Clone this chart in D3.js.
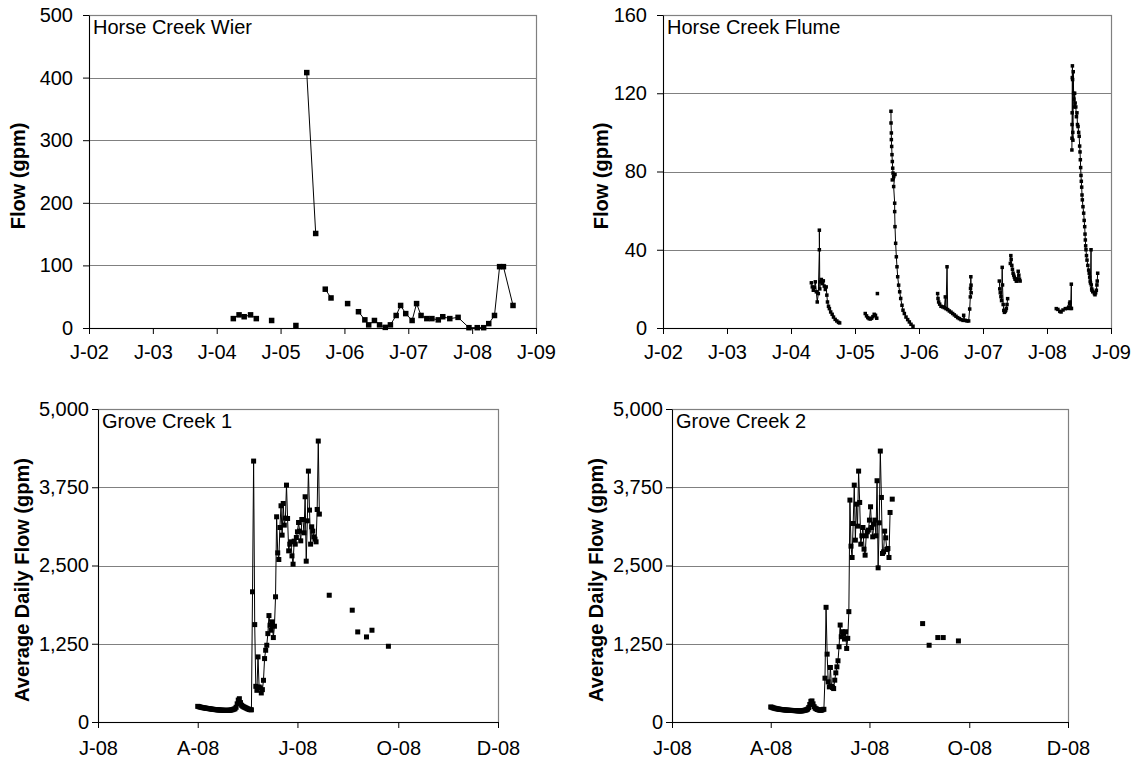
<!DOCTYPE html>
<html><head><meta charset="utf-8">
<script src="https://cdn.jsdelivr.net/npm/d3@7"></script>
<style>
body{margin:0;background:#fff}
svg{display:block}
text{font-family:Arial,"Liberation Sans",sans-serif;fill:#000}
</style>
</head><body>
<svg id="chart" width="1135" height="763"></svg>
<script>
// ---------- axis ticks / labels ----------
const yearTicks = [2002, 2003, 2004, 2005, 2006, 2007, 2008, 2009];
const yearTickLabels = ["J-02", "J-03", "J-04", "J-05", "J-06", "J-07", "J-08", "J-09"];
const wierFlowTicks = [0, 100, 200, 300, 400, 500];
const flumeFlowTicks = [0, 40, 80, 120, 160];
const groveFlowTicks = [0, 1250, 2500, 3750, 5000];
const groveTickDates = ["2008-01-01", "2008-04-01", "2008-07-01", "2008-10-01", "2008-12-31"];
const groveTickLabels = ["J-08", "A-08", "J-08", "O-08", "D-08"];

// ---------- Horse Creek Wier: [decimal year, gpm], null = gap ----------
const wierData = [
  [2004.26,15],[2004.35,21],[2004.43,18],[2004.53,21],[2004.62,15], null,
  [2004.86,12], null,
  [2005.24,4], null,
  [2005.41,408],[2005.55,151], null,
  [2005.70,62],[2005.79,48], null,
  [2006.05,39], null,
  [2006.22,26],[2006.32,13],[2006.38,5],[2006.47,12],[2006.55,5],[2006.64,1],[2006.72,5],
  [2006.81,20],[2006.88,36],[2006.96,23],[2007.06,12],[2007.13,39],[2007.20,20],[2007.29,15],
  [2007.37,15],[2007.47,13],[2007.54,18],[2007.65,15],[2007.78,17],[2007.95,0.5],[2008.08,0.5],
  [2008.18,0.5],[2008.26,7],[2008.35,20],[2008.43,98],[2008.49,98],[2008.64,36]
];

// ---------- Horse Creek Flume: [decimal year, gpm], null = gap ----------
const flumeData = [
  [2004.318,23.1],[2004.333,21],[2004.349,19.3],[2004.365,20.7],[2004.38,23.6],[2004.396,18.5],
  [2004.41,13.3],[2004.427,17.6],[2004.443,40],[2004.443,50],[2004.45,20],[2004.458,23.6],
  [2004.474,24.8],[2004.49,22.7],[2004.505,24.1],[2004.52,21.4],[2004.536,19.7],[2004.55,21],
  [2004.56,16.8],[2004.57,13.3],[2004.586,11.1],[2004.6,9.9],[2004.62,8.2],[2004.643,7],
  [2004.664,5.6],[2004.69,4.4],[2004.716,3.6],[2004.742,2.9],[2004.76,2.6], null,
  [2005.16,7.4],[2005.18,6.2],[2005.2,5.3],[2005.22,4.8],[2005.24,4.6],[2005.26,5],[2005.28,5.8],
  [2005.3,7],[2005.32,6.5],[2005.34,5], null,
  [2005.35,17.6], null,
  [2005.562,110.8],[2005.563,104.8],[2005.568,99.7],[2005.568,96.3],[2005.573,92.8],[2005.578,88.6],
  [2005.583,85.1],[2005.589,81.7],[2005.594,79.2],[2005.604,77.4],[2005.583,75.7],[2005.625,78.5],
  [2005.604,72.3],[2005.62,63.8],[2005.62,59.5],[2005.625,51.8],[2005.635,43.3],[2005.646,36.4],
  [2005.656,31.3],[2005.667,26.2],[2005.682,21.9],[2005.698,18.5],[2005.714,15.1],[2005.734,11.6],
  [2005.75,9.1],[2005.771,7.4],[2005.797,5.6],[2005.823,4.3],[2005.849,3.1],[2005.875,1.9],
  [2005.906,0.9], null,
  [2006.291,17.6],[2006.297,15.1],[2006.307,13.3],[2006.323,12.2],[2006.344,11.1],[2006.37,10.8],
  [2006.396,10.4],[2006.411,15.9],[2006.422,9.9],[2006.438,31.3],[2006.448,9.4],[2006.474,8.7],
  [2006.5,8.1],[2006.526,7.4],[2006.552,6.7],[2006.578,6.0],[2006.604,5.3],[2006.63,4.8],
  [2006.656,4.3],[2006.688,3.9],[2006.698,6.5],[2006.724,3.9],[2006.75,3.6],[2006.776,3.6],
  [2006.792,9.7],[2006.802,15.9],[2006.805,20.2],[2006.81,26.2],[2006.813,21.9],[2006.815,18], null,
  [2007.255,24],[2007.262,20],[2007.27,18],[2007.28,16],[2007.29,14],[2007.3,31],[2007.305,22],
  [2007.315,12],[2007.325,9],[2007.335,8],[2007.345,8.5],[2007.355,9],[2007.365,10],[2007.375,12],
  [2007.385,15], null,
  [2007.427,33],[2007.435,37],[2007.44,35],[2007.45,32],[2007.46,30],[2007.47,28],[2007.48,27],
  [2007.49,26],[2007.5,25],[2007.51,25],[2007.52,24],[2007.53,24],[2007.54,25],[2007.55,29],
  [2007.56,27],[2007.57,25],[2007.58,24], null,
  [2008.145,9.9],[2008.17,9.5],[2008.2,8.5],[2008.22,8.2],[2008.25,9.2],[2008.286,9.9],[2008.32,10],
  [2008.34,10.7],[2008.353,12.5],[2008.36,13.3],[2008.37,10],[2008.38,22.4],[2008.382,10], null,
  [2008.389,91],[2008.390,97],[2008.391,104],[2008.393,110],[2008.395,128],[2008.397,134],
  [2008.400,127],[2008.403,100],[2008.405,96],[2008.410,131],[2008.416,120],[2008.42,117],
  [2008.428,113],[2008.432,120],[2008.44,115],[2008.45,113],[2008.46,108],[2008.468,110],
  [2008.476,104],[2008.485,103],[2008.495,100],[2008.503,98],[2008.51,93],[2008.516,90],
  [2008.521,86],[2008.526,82],[2008.531,78],[2008.536,75],[2008.542,72],[2008.547,68],
  [2008.552,65.5],[2008.562,62],[2008.573,58.7],[2008.581,55],[2008.589,51.8],[2008.594,48],
  [2008.599,45],[2008.604,42],[2008.609,40],[2008.617,37],[2008.625,34.7],[2008.638,32],
  [2008.651,29.6],[2008.66,28],[2008.667,26],[2008.675,24],[2008.68,23],[2008.688,40],
  [2008.692,22],[2008.698,20],[2008.703,19.3],[2008.715,18.5],[2008.74,17.6],[2008.75,17],
  [2008.76,18],[2008.771,19.3],[2008.78,22],[2008.785,24],[2008.792,28]
];

// ---------- Grove Creek 1: daily average flow from grove1Start ----------
const grove1Start = "2008-04-01";
const grove1Daily = [
  250,246,240,235,231,228,225,222,219,216, 214,211,208,205,203,200,198,196,194,193,
  192,190,189,188,187,187,186,186,187,188, 190,194,198,205,212,235,290,350,372,310,
  268,252,242,233,225,215,208,200,196,195,
  2080,4168,1556,570,506,1040,560,544,464,517, 666,1013,1146,1226,1412,1700,1546,1466,1600,1349,
  1530,2000,3278,2702,2596,3107,3454,2985,3491,3145, 3257,3784,3251,2734,2841,2878,2654,2521,2889,2841,
  2947,3038,3187,3049,2894,3235,3235,3022,3598,2569, 3214,4008,3385,2841,3118,3049,2958,2921,2878,3395,
  4488,3321
];
const grove1Spots = [["2008-07-30",2025],["2008-08-20",1786],["2008-08-25",1439],
  ["2008-09-02",1359],["2008-09-07",1466],["2008-09-22",1210]];

// ---------- Grove Creek 2 ----------
const grove2Start = "2008-04-01";
const grove2Daily = [
  240,235,228,222,218,213,210,207,204,201, 199,197,195,193,191,190,188,187,186,185,
  184,183,182,181,180,178,177,176,176,178, 182,186,190,195,205,230,280,330,336,290,
  245,220,210,200,195,190,187,190,198,203,
  700,1832,1084,641,561,871,572,550,534,668, 785,881,978,1202,1549,1362,1442,1405,1325,1442,
  1175,1336,1763,3545,2809,2628,3171,3784,2905,3480, 3129,4008,3507,2841,2974,3107,2761,2665,2974,3038,
  3065,3225,3438,3107,2958,3161,3225,2974,3854,2463, 3182,4328,3587,2692,2718,3049,2942,2756,2772,2628,
  3347
];
const grove2Spots = [["2008-07-22",3560],["2008-08-19",1572],["2008-08-25",1226],
  ["2008-09-02",1349],["2008-09-07",1349],["2008-09-21",1295]];

// ---------- drawing ----------
const svg = d3.select("#chart");
const FONT = 20;
const parse = d3.timeParse("%Y-%m-%d");

function dailySeries(start, vals) {
  const s = parse(start);
  return vals.map((v, i) => v == null ? null : [d3.timeDay.offset(s, i), v]);
}

function panel(cfg) {
  const g = svg.append("g");
  const {x0, x1, y0, y1} = cfg.box;
  const x = cfg.x.range([x0, x1]);
  const y = cfg.y.range([y1, y0]);
  const yt = cfg.yTicks;

  // gridlines
  g.selectAll("line.grid").data(yt.slice(1, -1)).join("line")
    .attr("x1", x0).attr("x2", x1)
    .attr("y1", d => Math.round(y(d)) + 0.5).attr("y2", d => Math.round(y(d)) + 0.5)
    .attr("stroke", "#808080").attr("stroke-width", 1.2);
  // plot border
  g.append("rect").attr("x", Math.round(x0) + 0.5).attr("y", Math.round(y0) + 0.5)
    .attr("width", Math.round(x1 - x0)).attr("height", Math.round(y1 - y0))
    .attr("fill", "none").attr("stroke", "#808080").attr("stroke-width", 1.2);

  // axes
  const ya = g.append("g").attr("transform", `translate(${Math.round(x0)},0)`)
    .call(d3.axisLeft(y).tickValues(yt).tickFormat(cfg.yFmt).tickSize(6).tickSizeOuter(0).tickPadding(cfg.yPad));
  const xa = g.append("g").attr("transform", `translate(0,${Math.round(y1)})`)
    .call(d3.axisBottom(x).tickValues(cfg.xTicks).tickFormat((d, i) => cfg.xLabels[i])
      .tickSize(6).tickSizeOuter(0).tickPadding(cfg.xPad));
  [ya, xa].forEach(a => {
    a.selectAll("path,line").attr("stroke", "#000");
    a.selectAll("text").style("font-size", FONT + "px").attr("fill", "#000");
  });

  // title
  g.append("text").attr("x", x0 + 4).attr("y", y0 + 19).style("font-size", FONT + "px").text(cfg.title);
  // y label
  g.append("text").attr("transform", `translate(${cfg.yLabelX},${cfg.yLabelY}) rotate(-90)`)
    .attr("text-anchor", "middle").attr("dy", "0.35em")
    .style("font-size", FONT + "px").style("font-weight", "bold")
    .text(cfg.yLabel);

  // line + markers
  const line = d3.line().defined(d => d != null).x(d => x(d[0])).y(d => y(d[1]));
  g.append("path").datum(cfg.data).attr("d", line).attr("fill", "none")
    .attr("stroke", "#000").attr("stroke-width", 1);
  const pts = cfg.data.filter(d => d != null).concat(cfg.spots || []);
  const m = cfg.marker;
  g.selectAll("rect.mk").data(pts).join("rect")
    .attr("x", d => x(d[0]) - m / 2).attr("y", d => y(d[1]) - m / 2)
    .attr("width", m).attr("height", m).attr("fill", "#000");
}

const groveX = () => d3.scaleTime().domain([parse("2008-01-01"), parse("2008-12-31")]);
const groveTicks = groveTickDates.map(parse);

panel({
  box: {x0: 89, x1: 536, y0: 15, y1: 328},
  x: d3.scaleLinear().domain([2002, 2009]), xTicks: yearTicks, xLabels: yearTickLabels,
  y: d3.scaleLinear().domain([0, 500]), yTicks: wierFlowTicks, yFmt: d3.format("d"),
  title: "Horse Creek Wier", yLabel: "Flow (gpm)", yLabelX: 18, yLabelY: 176,
  yPad: 10, xPad: 11, data: wierData, marker: 5.5
});
panel({
  box: {x0: 663, x1: 1111, y0: 15, y1: 328},
  x: d3.scaleLinear().domain([2002, 2009]), xTicks: yearTicks, xLabels: yearTickLabels,
  y: d3.scaleLinear().domain([0, 160]), yTicks: flumeFlowTicks, yFmt: d3.format("d"),
  title: "Horse Creek Flume", yLabel: "Flow (gpm)", yLabelX: 601, yLabelY: 176,
  yPad: 10, xPad: 11, data: flumeData, marker: 3.5
});
panel({
  box: {x0: 98, x1: 498, y0: 409, y1: 722},
  x: groveX(), xTicks: groveTicks, xLabels: groveTickLabels,
  y: d3.scaleLinear().domain([0, 5000]), yTicks: groveFlowTicks, yFmt: d3.format(","),
  title: "Grove Creek 1", yLabel: "Average Daily Flow (gpm)", yLabelX: 22, yLabelY: 580,
  yPad: 3, xPad: 13,
  data: dailySeries(grove1Start, grove1Daily),
  spots: grove1Spots.map(d => [parse(d[0]), d[1]]), marker: 5
});
panel({
  box: {x0: 672, x1: 1068, y0: 409, y1: 722},
  x: groveX(), xTicks: groveTicks, xLabels: groveTickLabels,
  y: d3.scaleLinear().domain([0, 5000]), yTicks: groveFlowTicks, yFmt: d3.format(","),
  title: "Grove Creek 2", yLabel: "Average Daily Flow (gpm)", yLabelX: 596, yLabelY: 580,
  yPad: 3, xPad: 13,
  data: dailySeries(grove2Start, grove2Daily),
  spots: grove2Spots.map(d => [parse(d[0]), d[1]]), marker: 5
});
</script>
</body></html>
